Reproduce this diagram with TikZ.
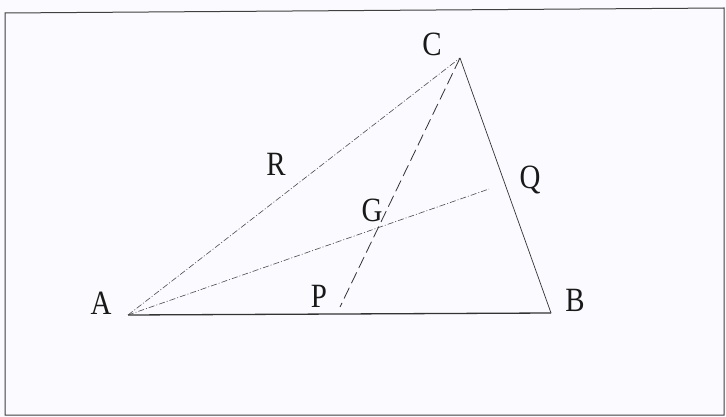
\documentclass[tikz,border=0pt]{standalone}
\usepackage{fontspec}
\setmainfont{Liberation Serif}
\begin{document}
\begin{tikzpicture}[x=1pt,y=-1pt,
  lbl/.style={font=\fontsize{34}{34}\selectfont, text=black!90, inner sep=0pt, xscale=0.85},
  pt/.style={inner sep=0pt, minimum size=0pt},
  frame/.style={draw=black!75, line width=1pt},
  base/.style={draw=black!80, line width=1.3pt},
  side/.style={draw=black!80, line width=0.7pt},
  dd/.style={draw=black!70, line width=0.6pt, dash pattern=on 6pt off 2pt on 1pt off 2pt},
  dsh/.style={draw=black!80, line width=0.8pt, dash pattern=on 12pt off 5pt}]
\useasboundingbox (0,0) rectangle (726,417);
\fill[white!98!blue] (0,0) rectangle (726,417);
\draw[frame] (5,13) -- (724,8) -- (724,415) -- (5,415) -- cycle;
\node[pt] (A) at (128,315) {};
\node[pt] (B) at (551,313) {};
\node[pt] (C) at (460,58) {};
\node[pt] (P) at (340,307) {};
\node[pt] (Q) at (489,189) {};
\draw[base] (A.center) -- (B.center);
\draw[side] (B.center) -- (C.center);
\draw[dd] (A.center) -- (C.center);
\draw[dd] (A.center) -- (Q.center);
\draw[dsh] (C.center) -- (P.center);
\node[lbl] (lA) at (101,303) {A};
\node[lbl] (lB) at (575,300) {B};
\node[lbl] (lC) at (432,44) {C};
\node[lbl] (lP) at (319,296) {P};
\node[lbl] (lQ) at (530,180) {Q};
\node[lbl] (lR) at (276,164) {R};
\node[lbl] (lG) at (372,210) {G};
\end{tikzpicture}
\end{document}
